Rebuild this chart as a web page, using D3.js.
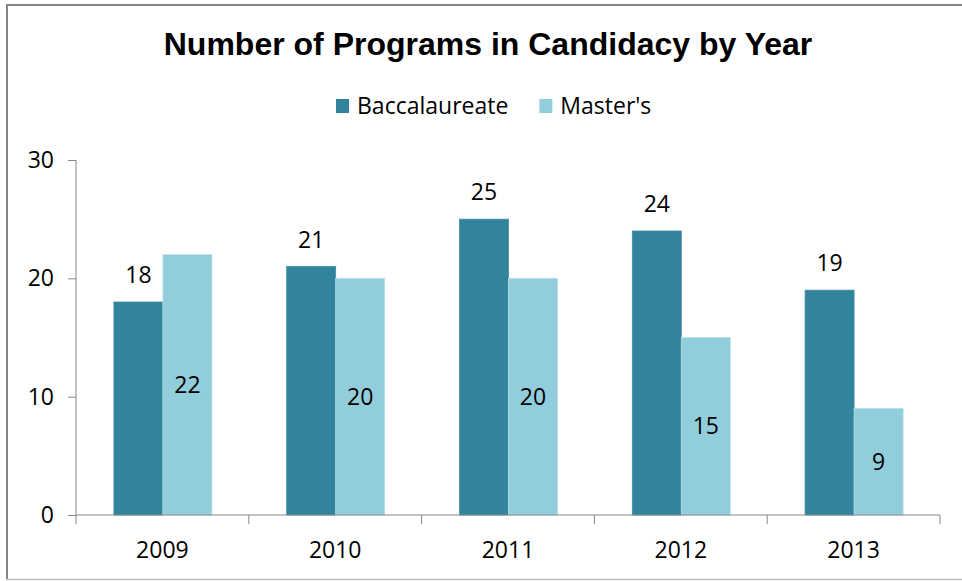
<!DOCTYPE html>
<html>
<head>
<meta charset="utf-8">
<script src="https://cdn.jsdelivr.net/npm/d3@7"></script>
<style>
  body { margin: 0; background: #fff; }
  svg { display: block; }
  text { font-family: "Open Sans", sans-serif; fill: #000; }
</style>
</head>
<body>
<svg id="chart" width="962" height="581"></svg>
<script>
// data
var years = ["2009", "2010", "2011", "2012", "2013"];
var seriesNames = ["Baccalaureate", "Master's"];
var baccalaureate = [18, 21, 25, 24, 19];
var masters = [22, 20, 20, 15, 9];
var yTicks = [0, 10, 20, 30];

var colors = { "Baccalaureate": "#31849b", "Master's": "#92cddc" };

var svg = d3.select("#chart"),
  width = +svg.attr("width"),
  height = +svg.attr("height");

// frame
svg.append("line").attr("x1", 6).attr("x2", width).attr("y1", 5).attr("y2", 5)
  .attr("stroke", "#858585").attr("stroke-width", 2);
svg.append("line").attr("x1", 7).attr("x2", 7).attr("y1", 4).attr("y2", 580)
  .attr("stroke", "#858585").attr("stroke-width", 2);
svg.append("line").attr("x1", 6).attr("x2", width).attr("y1", 579.5).attr("y2", 579.5)
  .attr("stroke", "#c0c0c0").attr("stroke-width", 1.5);

// title
svg.append("text")
  .attr("x", 488)
  .attr("y", 55)
  .attr("text-anchor", "middle")
  .style("font-family", "'Liberation Sans', Arial, sans-serif")
  .style("font-weight", "bold")
  .style("font-size", "32px")
  .text("Number of Programs in Candidacy by Year");

// scales
var x0 = d3.scaleBand().domain(years).range([76, 940]).padding(0);
var x1 = d3.scaleBand().domain(seriesNames).range([0, x0.bandwidth()])
  .paddingInner(0).paddingOuter(0.763);
var y = d3.scaleLinear().domain([0, 30]).range([515, 160]);

var rows = years.map(function(yr, i) {
  return { year: yr, values: [
    { key: "Baccalaureate", value: baccalaureate[i] },
    { key: "Master's", value: masters[i] }
  ] };
});

// axes
var yAxis = svg.append("g")
  .attr("transform", "translate(76,0)")
  .call(d3.axisLeft(y).tickValues(yTicks).tickSize(8).tickPadding(14).tickFormat(d3.format("d")));
yAxis.select(".domain").attr("stroke", "#868686").attr("d", "M0,160V515");
yAxis.selectAll(".tick line").attr("stroke", "#868686");
yAxis.selectAll(".tick text").style("font-size", "23px").attr("fill", "#000");

// bars
var groups = svg.append("g").selectAll("g")
  .data(rows)
  .enter()
  .append("g")
  .attr("transform", function(d) { return "translate(" + x0(d.year) + ",0)"; });

groups.selectAll("rect")
  .data(function(d) { return d.values; })
  .enter()
  .append("rect")
  .attr("x", function(d) { return x1(d.key) + 0.5; })
  .attr("y", function(d) { return y(d.value); })
  .attr("width", x1.bandwidth())
  .attr("height", function(d) { return y(0) - y(d.value); })
  .attr("fill", function(d) { return colors[d.key]; })
  .attr("stroke", function(d) { return d.key === "Master's" ? "#b7e0ea" : "#3f8ea4"; })
  .attr("stroke-width", 0.8);

// value labels
groups.selectAll("text")
  .data(function(d) { return d.values; })
  .enter()
  .append("text")
  .attr("x", function(d) { return x1(d.key) + x1.bandwidth() / 2 + 0.5; })
  .attr("y", function(d) {
    if (d.key === "Baccalaureate") return y(d.value) - 19;
    return (y(d.value) + y(0)) / 2 + 8;
  })
  .attr("text-anchor", "middle")
  .style("font-size", "23px")
  .text(function(d) { return d.value; });

// x axis (drawn after bars so the line sits on top)
var xAxis = svg.append("g")
  .attr("transform", "translate(0,515)");
xAxis.append("line")
  .attr("x1", 76).attr("x2", 940)
  .attr("stroke", "#868686");
xAxis.selectAll(".xtick")
  .data(years.map(function(yr) { return x0(yr); }).concat([x0.range()[1]]))
  .enter()
  .append("line")
  .attr("class", "xtick")
  .attr("x1", function(d) { return d; })
  .attr("x2", function(d) { return d; })
  .attr("y1", 0).attr("y2", 9)
  .attr("stroke", "#868686");
xAxis.selectAll(".xlabel")
  .data(years)
  .enter()
  .append("text")
  .attr("class", "xlabel")
  .attr("x", function(d) { return x0(d) + x0.bandwidth() / 2; })
  .attr("y", 43)
  .attr("text-anchor", "middle")
  .style("font-size", "23px")
  .text(function(d) { return d; });

// legend
var legend = svg.append("g");
var lx = 336;
seriesNames.forEach(function(name, i) {
  legend.append("rect")
    .attr("x", lx).attr("y", 99)
    .attr("width", 13).attr("height", 14)
    .attr("fill", colors[name]);
  var t = legend.append("text")
    .attr("x", lx + 21).attr("y", 114)
    .style("font-size", "23px")
    .text(name);
  lx += 21 + t.node().getComputedTextLength() + 31;
});
</script>
</body>
</html>
